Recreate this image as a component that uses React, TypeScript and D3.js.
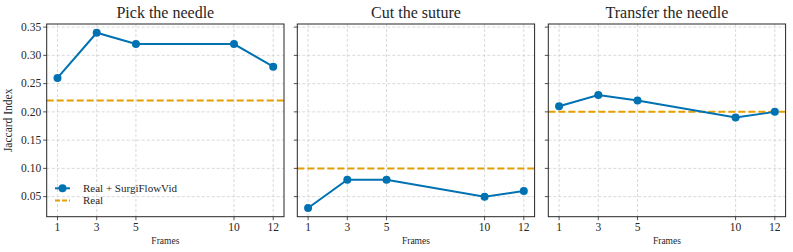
import React from "react";
import * as d3 from "d3";

const frames = [1, 3, 5, 10, 12];
const titles = ["Pick the needle", "Cut the suture", "Transfer the needle"];
const surgiValues = [
  [0.26, 0.34, 0.32, 0.32, 0.28],
  [0.03, 0.08, 0.08, 0.05, 0.06],
  [0.21, 0.23, 0.22, 0.19, 0.2],
];
const realValues = [0.22, 0.1, 0.2];
const yTicks = [0.05, 0.1, 0.15, 0.2, 0.25, 0.3, 0.35];
const legendLabels = ["Real + SurgiFlowVid", "Real"];

const W = 793;
const H = 252;
const BLUE = "#0072B2";
const ORANGE = "#E69F00";
const FONT = "Liberation Serif";

export default function App() {
  const panelLefts = [46.7, 297.3, 548.3];
  const pw = 237.3;
  const top = 24;
  const bottom = 216.7;
  const y = d3.scaleLinear().domain([0.0145, 0.3555]).range([bottom, top]);
  return (
    <svg width={W} height={H} style={{ position: "absolute", left: 0, top: 0, fontFamily: FONT }}>
      <rect width={W} height={H} fill="#fff" />
      {titles.map((title, i) => {
        const x0 = panelLefts[i];
        const x = d3.scaleLinear().domain([0.45, 12.55]).range([x0, x0 + pw]);
        const line = d3
          .line<number>()
          .x((_, j) => x(frames[j]))
          .y((d) => y(d));
        const vals = surgiValues[i];
        return (
          <g key={title}>
            <defs>
              <clipPath id={`clip${i}`}>
                <rect x={x0} y={top} width={pw} height={bottom - top} />
              </clipPath>
            </defs>
            {frames.map((f) => (
              <line key={"gx" + f} x1={x(f)} x2={x(f)} y1={top} y2={bottom} stroke="#d0d0d0" strokeWidth={0.8} strokeDasharray="3,2" />
            ))}
            {yTicks.map((t) => (
              <line key={"gy" + t} x1={x0} x2={x0 + pw} y1={y(t)} y2={y(t)} stroke="#d0d0d0" strokeWidth={0.8} strokeDasharray="3,2" />
            ))}
            <line
              x1={x0}
              x2={x0 + pw}
              y1={y(realValues[i])}
              y2={y(realValues[i])}
              stroke={ORANGE}
              strokeWidth={2}
              strokeDasharray="7,3"
            />
            <g clipPath={`url(#clip${i})`}>
              <path d={line(vals) || ""} fill="none" stroke={BLUE} strokeWidth={2} />
            </g>
            {vals.map((v, j) => (
              <circle key={j} cx={x(frames[j])} cy={y(v)} r={4} fill={BLUE} />
            ))}
            <rect x={x0} y={top} width={pw} height={bottom - top} fill="none" stroke="#262626" strokeWidth={1} />
            {frames.map((f) => (
              <g key={"xt" + f}>
                <line x1={x(f)} x2={x(f)} y1={bottom} y2={bottom + 3.5} stroke="#262626" strokeWidth={0.8} />
                <text x={x(f)} y={bottom + 14.5} textAnchor="middle" fontSize={11.5} fill="#262626">
                  {f}
                </text>
              </g>
            ))}
            {yTicks.map((t) => (
              <g key={"yt" + t}>
                <line x1={x0 - 3.5} x2={x0} y1={y(t)} y2={y(t)} stroke="#262626" strokeWidth={0.8} />
                {i === 0 && (
                  <text x={x0 - 5.5} y={y(t)} dy="0.33em" textAnchor="end" fontSize={11.5} fill="#262626">
                    {t.toFixed(2)}
                  </text>
                )}
              </g>
            ))}
            <text x={x0 + pw / 2} y={bottom + 27} textAnchor="middle" fontSize={9.5} fill="#262626">
              Frames
            </text>
            <text x={x0 + pw / 2} y={top - 6} textAnchor="middle" fontSize={16} fill="#262626">
              {title}
            </text>
            {i === 0 && (
              <g>
                <line x1={55} x2={70} y1={188.3} y2={188.3} stroke={BLUE} strokeWidth={2} />
                <circle cx={62.5} cy={188.3} r={4} fill={BLUE} />
                <line x1={55} x2={70} y1={200.5} y2={200.5} stroke={ORANGE} strokeWidth={2} strokeDasharray="5,2" />
                <text x={83} y={188.3} dy="0.33em" fontSize={11} fill="#262626">
                  {legendLabels[0]}
                </text>
                <text x={83} y={200.5} dy="0.33em" fontSize={11} fill="#262626">
                  {legendLabels[1]}
                </text>
              </g>
            )}
          </g>
        );
      })}
      <text
        transform={`translate(12,${(top + bottom) / 2}) rotate(-90)`}
        textAnchor="middle"
        fontSize={11.5}
        fill="#262626"
      >
        Jaccard Index
      </text>
    </svg>
  );
}
